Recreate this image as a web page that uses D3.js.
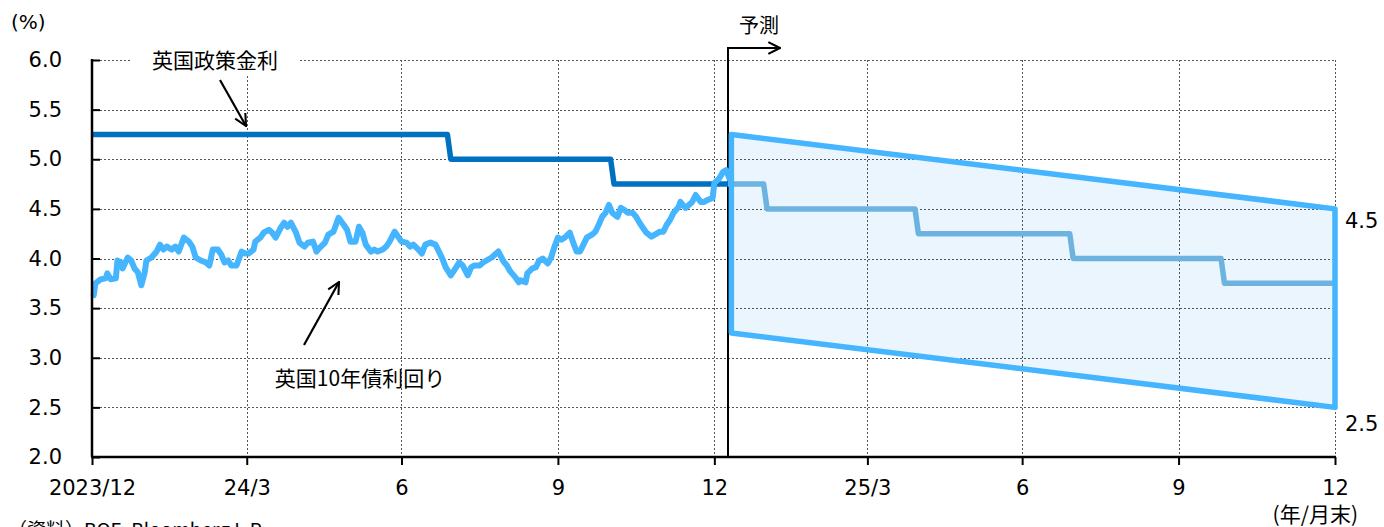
<!DOCTYPE html>
<html>
<head>
<meta charset="utf-8">
<script src="https://cdn.jsdelivr.net/npm/d3@7"></script>
<style>
  body { margin: 0; background: #fff; }
  text { font-family: "DejaVu Sans", "Noto Sans CJK JP", sans-serif; fill: #000; }
  .jp { font-family: "Noto Sans CJK JP", sans-serif; }
</style>
</head>
<body>
<svg id="chart" width="1384" height="527"></svg>
<script>
// ---- data ----
const xTickDates = ["2023-12-31", "2024-03-31", "2024-06-30", "2024-09-30", "2024-12-31",
                    "2025-03-31", "2025-06-30", "2025-09-30", "2025-12-31"];
const xTickLabels = ["2023/12", "24/3", "6", "9", "12", "25/3", "6", "9", "12"];
const yTicks = [2.0, 2.5, 3.0, 3.5, 4.0, 4.5, 5.0, 5.5, 6.0];

// BOE Bank Rate (actual)
const policyDates = ["2023-12-31", "2024-07-27", "2024-07-29", "2024-10-31", "2024-11-02", "2025-01-08"];
const policyRate  = [5.25, 5.25, 5.0, 5.0, 4.75, 4.75];

// Bank Rate (forecast path)
const policyForecastDates = ["2025-01-08", "2025-01-29", "2025-01-31", "2025-04-28", "2025-04-30",
                             "2025-07-28", "2025-07-30", "2025-10-25", "2025-10-27", "2025-12-31"];
const policyForecastRate  = [4.75, 4.75, 4.5, 4.5, 4.25, 4.25, 4.0, 4.0, 3.75, 3.75];

// 10-year gilt yield forecast range
const bandDates = ["2025-01-10", "2025-12-31"];
const bandUpper = [5.25, 4.5];
const bandLower = [3.25, 2.5];

const forecastStart = "2025-01-08";

// 10-year gilt yield (actual)
const yieldDates = [
  "2024-01-01","2024-01-02","2024-01-05","2024-01-08","2024-01-09","2024-01-11","2024-01-14","2024-01-15",
  "2024-01-17","2024-01-18","2024-01-21","2024-01-23","2024-01-25","2024-01-27","2024-01-29","2024-01-31",
  "2024-02-01","2024-02-04","2024-02-07","2024-02-09","2024-02-11","2024-02-13","2024-02-16","2024-02-18",
  "2024-02-20","2024-02-23","2024-02-26","2024-02-28","2024-03-01","2024-03-04","2024-03-07","2024-03-09",
  "2024-03-11","2024-03-14","2024-03-16","2024-03-18","2024-03-20","2024-03-22","2024-03-25","2024-03-28",
  "2024-03-30","2024-04-01","2024-04-04","2024-04-05","2024-04-08","2024-04-10","2024-04-13","2024-04-15",
  "2024-04-17","2024-04-20","2024-04-22","2024-04-24","2024-04-26","2024-04-29","2024-05-01","2024-05-04",
  "2024-05-06","2024-05-09","2024-05-11","2024-05-13","2024-05-16","2024-05-18","2024-05-21","2024-05-24",
  "2024-05-27","2024-05-29","2024-05-31","2024-06-03","2024-06-05","2024-06-07","2024-06-09","2024-06-12",
  "2024-06-14","2024-06-16","2024-06-19","2024-06-21","2024-06-23","2024-06-26","2024-06-28","2024-06-30",
  "2024-07-03","2024-07-05","2024-07-07","2024-07-10","2024-07-12","2024-07-14","2024-07-17","2024-07-20",
  "2024-07-22","2024-07-24","2024-07-26","2024-07-29","2024-07-31","2024-08-03","2024-08-05","2024-08-08",
  "2024-08-10","2024-08-12","2024-08-15","2024-08-17","2024-08-19","2024-08-22","2024-08-24","2024-08-26",
  "2024-08-29","2024-08-31","2024-09-02","2024-09-05","2024-09-07","2024-09-08","2024-09-11","2024-09-12",
  "2024-09-15","2024-09-17","2024-09-19","2024-09-21","2024-09-24","2024-09-26","2024-09-28","2024-09-30",
  "2024-10-02","2024-10-04","2024-10-07","2024-10-09","2024-10-11","2024-10-13","2024-10-15","2024-10-17",
  "2024-10-20","2024-10-22","2024-10-24","2024-10-26","2024-10-28","2024-10-30","2024-11-01","2024-11-04",
  "2024-11-06","2024-11-08","2024-11-10","2024-11-13","2024-11-15","2024-11-17","2024-11-19","2024-11-21",
  "2024-11-24","2024-11-26","2024-11-29","2024-12-01","2024-12-03","2024-12-05","2024-12-07","2024-12-10",
  "2024-12-11","2024-12-14","2024-12-16","2024-12-18","2024-12-20","2024-12-23","2024-12-25","2024-12-27",
  "2024-12-30","2024-12-31","2025-01-03","2025-01-05","2025-01-07","2025-01-09"
];
const yieldValues = [
  3.63,3.75,3.79,3.80,3.85,3.79,3.80,3.98,
  3.96,3.90,4.01,3.98,3.90,3.86,3.73,3.86,
  3.98,4.01,4.07,4.14,4.09,4.12,4.09,4.12,
  4.07,4.21,4.17,4.12,4.01,3.98,3.96,3.93,
  4.09,4.09,4.04,3.96,3.98,3.93,3.93,4.07,
  4.05,4.05,4.09,4.17,4.21,4.26,4.29,4.26,
  4.21,4.31,4.36,4.32,4.36,4.26,4.16,4.12,
  4.16,4.17,4.07,4.11,4.16,4.24,4.27,4.41,
  4.34,4.29,4.17,4.17,4.32,4.26,4.14,4.07,
  4.09,4.07,4.09,4.12,4.17,4.27,4.22,4.17,
  4.16,4.12,4.14,4.09,4.05,4.14,4.16,4.14,
  4.07,4.00,3.91,3.83,3.88,3.96,3.93,3.83,
  3.91,3.93,3.93,3.96,3.98,4.01,4.04,4.07,
  3.97,3.93,3.87,3.81,3.76,3.78,3.76,3.85,
  3.90,3.91,3.98,4.00,3.95,4.01,4.12,4.21,
  4.19,4.21,4.26,4.16,4.07,4.07,4.14,4.21,
  4.24,4.27,4.34,4.42,4.46,4.54,4.46,4.42,
  4.51,4.49,4.46,4.46,4.42,4.36,4.31,4.26,
  4.22,4.24,4.27,4.27,4.34,4.39,4.46,4.52,
  4.57,4.51,4.54,4.57,4.64,4.57,4.57,4.59,
  4.61,4.76,4.81,4.87,4.89,4.80
];

// ---- layout ----
const svg = d3.select("#chart");
const plot = { left: 92, right: 1335, top: 60, bottom: 457 };
const parse = d3.timeParse("%Y-%m-%d");

const x = d3.scaleTime()
  .domain([parse(xTickDates[0]), parse(xTickDates[xTickDates.length - 1])])
  .range([plot.left, plot.right]);
const y = d3.scaleLinear()
  .domain([yTicks[0], yTicks[yTicks.length - 1]])
  .range([plot.bottom, plot.top]);

const zip = (ds, vs) => ds.map((d, i) => ({ date: parse(d), value: vs[i] }));
const policy = zip(policyDates, policyRate);
const policyFc = zip(policyForecastDates, policyForecastRate);
const yld = zip(yieldDates, yieldValues);
const bandTop = zip(bandDates, bandUpper);
const bandBot = zip(bandDates, bandLower);

const line = d3.line().x(d => x(d.date)).y(d => y(d.value));
const closed = d3.line().x(d => x(d.date)).y(d => y(d.value)).curve(d3.curveLinearClosed);

// arrowhead marker (open chevron)
const defs = svg.append("defs");
defs.append("marker")
  .attr("id", "chev")
  .attr("viewBox", "0 0 12 12")
  .attr("refX", 11).attr("refY", 6)
  .attr("markerWidth", 14).attr("markerHeight", 14)
  .attr("markerUnits", "userSpaceOnUse")
  .attr("orient", "auto")
  .append("path")
  .attr("d", "M1,1 L11,6 L1,11")
  .attr("fill", "none").attr("stroke", "#000").attr("stroke-width", 1.8);

// forecast range fill
const bandPoly = bandTop.concat(bandBot.slice().reverse());
svg.append("path")
  .datum(bandPoly)
  .attr("d", closed)
  .attr("fill", "#EAF5FD")
  .attr("stroke", "none");

// gridlines
const grid = svg.append("g").attr("stroke", "#555").attr("stroke-width", 1).attr("stroke-dasharray", "2,2");
grid.selectAll("line.h")
  .data(yTicks.slice(1))
  .join("line")
  .attr("x1", plot.left).attr("x2", plot.right)
  .attr("y1", d => Math.round(y(d)) + 0.5).attr("y2", d => Math.round(y(d)) + 0.5);
grid.selectAll("line.v")
  .data(xTickDates.slice(1))
  .join("line")
  .attr("x1", d => Math.round(x(parse(d))) + 0.5).attr("x2", d => Math.round(x(parse(d))) + 0.5)
  .attr("y1", plot.top).attr("y2", plot.bottom);

// forecast start marker
const fx = Math.round(x(parse(forecastStart)));
svg.append("line")
  .attr("x1", fx).attr("x2", fx).attr("y1", 48).attr("y2", plot.bottom)
  .attr("stroke", "#000").attr("stroke-width", 2);
svg.append("line")
  .attr("x1", fx - 1).attr("x2", fx + 52).attr("y1", 48).attr("y2", 48)
  .attr("stroke", "#000").attr("stroke-width", 2)
  .attr("marker-end", "url(#chev)");
svg.append("text").attr("class", "jp")
  .attr("x", fx + 31).attr("y", 33).attr("text-anchor", "middle")
  .attr("font-size", 20).text("予測");

// Bank Rate, actual
svg.append("path").datum(policy)
  .attr("d", line).attr("fill", "none")
  .attr("stroke", "#0070C0").attr("stroke-width", 5.5).attr("stroke-linejoin", "round");

// Bank Rate, forecast
svg.append("path").datum(policyFc)
  .attr("d", line).attr("fill", "none")
  .attr("stroke", "#6DB3E0").attr("stroke-width", 5.5).attr("stroke-linejoin", "round");

// 10-year yield
svg.append("path").datum(yld)
  .attr("d", line).attr("fill", "none")
  .attr("stroke", "#45B5FF").attr("stroke-width", 6)
  .attr("stroke-linejoin", "round").attr("stroke-linecap", "round");

// forecast range outline
svg.append("path")
  .datum(bandPoly)
  .attr("d", closed)
  .attr("fill", "none")
  .attr("stroke", "#45B5FF").attr("stroke-width", 5.5).attr("stroke-linejoin", "round");

// range end labels
const fmt = d3.format(".1f");
svg.append("text")
  .attr("x", plot.right + 10).attr("y", y(bandUpper[1]) + 19)
  .attr("font-size", 21).text(fmt(bandUpper[1]));
svg.append("text")
  .attr("x", plot.right + 10).attr("y", y(bandLower[1]) + 24)
  .attr("font-size", 21).text(fmt(bandLower[1]));

// axes
const yAxis = d3.axisLeft(y).tickValues(yTicks).tickFormat(fmt).tickSize(-8).tickPadding(30);
const gy = svg.append("g").attr("transform", `translate(${plot.left},0)`).call(yAxis);
gy.select(".domain").remove();
gy.selectAll(".tick line").attr("stroke", "#000").attr("stroke-width", 2);
gy.selectAll(".tick text").attr("font-size", 21).attr("font-family", "DejaVu Sans").attr("fill", "#000");
svg.append("line")
  .attr("x1", plot.left).attr("x2", plot.left).attr("y1", plot.top - 1).attr("y2", plot.bottom)
  .attr("stroke", "#000").attr("stroke-width", 2.5);

const xAxis = d3.axisBottom(x)
  .tickValues(xTickDates.map(parse))
  .tickFormat((d, i) => xTickLabels[i])
  .tickSize(8).tickPadding(15);
const gx = svg.append("g").attr("transform", `translate(0,${plot.bottom})`).call(xAxis);
gx.select(".domain").remove();
gx.selectAll(".tick line").attr("stroke", "#000").attr("stroke-width", 2);
gx.selectAll(".tick text").attr("font-size", 21).attr("font-family", "DejaVu Sans").attr("fill", "#000");
svg.append("line")
  .attr("x1", plot.left - 1).attr("x2", plot.right + 1).attr("y1", plot.bottom).attr("y2", plot.bottom)
  .attr("stroke", "#000").attr("stroke-width", 2.5);

// unit labels
svg.append("text").attr("x", 11).attr("y", 29).attr("font-size", 20).text("(%)");
svg.append("text").attr("class", "jp")
  .attr("x", 1358).attr("y", 522).attr("text-anchor", "end")
  .attr("font-size", 21).text("(年/月末)");

// series annotations
const lab1 = svg.append("g");
lab1.append("rect").attr("x", 132).attr("y", 48).attr("width", 166).attr("height", 26).attr("fill", "#fff");
lab1.append("text").attr("class", "jp")
  .attr("x", 215).attr("y", 68).attr("text-anchor", "middle")
  .attr("font-size", 21).text("英国政策金利");
svg.append("line")
  .attr("x1", 220).attr("y1", 80).attr("x2", 246).attr("y2", 126)
  .attr("stroke", "#000").attr("stroke-width", 2.2).attr("marker-end", "url(#chev)");

svg.append("text").attr("class", "jp")
  .attr("x", 360).attr("y", 386).attr("text-anchor", "middle")
  .attr("font-size", 21).text("英国10年債利回り");
svg.append("line")
  .attr("x1", 304).attr("y1", 345).attr("x2", 339).attr("y2", 282)
  .attr("stroke", "#000").attr("stroke-width", 2.2).attr("marker-end", "url(#chev)");

// source note
svg.append("text").attr("class", "jp")
  .attr("x", 8).attr("y", 537).attr("font-size", 19).text("（資料）BOE, Bloomberg L.P.");
</script>
</body>
</html>
